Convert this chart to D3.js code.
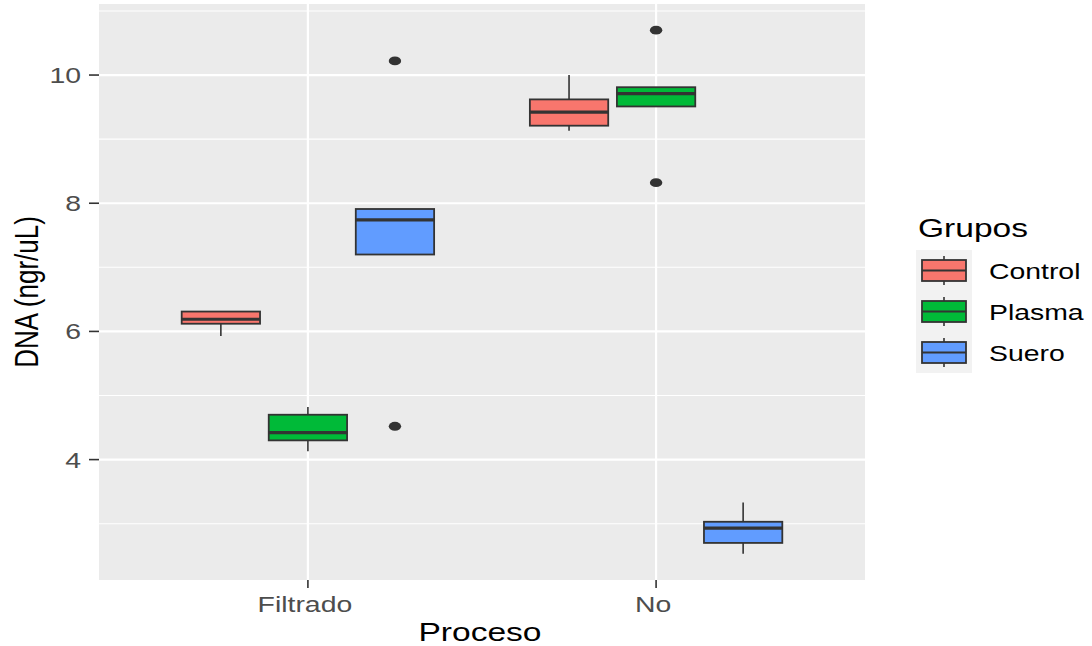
<!DOCTYPE html>
<html>
<head>
<meta charset="utf-8">
<script src="https://cdn.jsdelivr.net/npm/d3@7"></script>
<style>
  html, body { margin: 0; padding: 0; background: #fff; }
  svg { display: block; }
  text { font-family: "Liberation Sans", Arial, sans-serif; }
</style>
</head>
<body>
<svg id="chart" width="1092" height="646"></svg>
<script>
// Processing categories (x axis) and groups (fill)
const procesos = ["Filtrado", "No"];
const grupos = ["Control", "Plasma", "Suero"];
const colores = ["#F8766D", "#00BA38", "#619CFF"];

// Box statistics per group, one entry per proceso: [lower whisker, Q1, median, Q3, upper whisker]
const statsControl = [[5.93, 6.12, 6.19, 6.31, 6.31], [9.13, 9.21, 9.42, 9.62, 10.0]];
const statsPlasma  = [[4.13, 4.30, 4.42, 4.70, 4.82], [9.51, 9.51, 9.71, 9.81, 9.81]];
const statsSuero   = [[7.20, 7.20, 7.74, 7.91, 7.91], [2.53, 2.70, 2.93, 3.03, 3.33]];

// Outlying points per group, one list per proceso
const outControl = [[], []];
const outPlasma  = [[], [10.70, 8.32]];
const outSuero   = [[10.22, 4.52], []];

const yTicks = [4, 6, 8, 10];
const yMinor = [3, 5, 7, 9, 11];

const stats = [statsControl, statsPlasma, statsSuero];
const outs = [outControl, outPlasma, outSuero];

const boxes = [];
procesos.forEach((p, pi) => {
  grupos.forEach((g, gi) => {
    const s = stats[gi][pi];
    boxes.push({ proceso: p, pi, grupo: g, gi, lo: s[0], q1: s[1], med: s[2], q3: s[3], hi: s[4], out: outs[gi][pi] });
  });
});

const svg = d3.select("#chart");
const panel = { left: 99, right: 865, top: 4, bottom: 580 };
const SX = 1.29; // horizontal text stretch

// y range with 5% expansion around all values
const allVals = boxes.flatMap(b => [b.lo, b.hi, ...b.out]);
const yMin = d3.min(allVals), yMax = d3.max(allVals);
const pad = (yMax - yMin) * 0.05;
const y = d3.scaleLinear().domain([yMin - pad, yMax + pad]).range([panel.bottom, panel.top]);

// discrete x positions 1..n, expanded by 0.6 on each side
const x = d3.scaleLinear().domain([0.4, procesos.length + 0.6]).range([panel.left, panel.right]);
const dodge = 0.75;
const boxW = dodge / grupos.length * 0.9;
const boxX = b => x(b.pi + 1 + (b.gi - (grupos.length - 1) / 2) * dodge / grupos.length);
const unit = x(1) - x(0);

// panel background and grid
svg.append("rect").attr("x", panel.left).attr("y", panel.top)
  .attr("width", panel.right - panel.left).attr("height", panel.bottom - panel.top)
  .attr("fill", "#EBEBEB");
const grid = svg.append("g");
yMinor.forEach(v => grid.append("line").attr("x1", panel.left).attr("x2", panel.right)
  .attr("y1", y(v)).attr("y2", y(v)).attr("stroke", "#fff").attr("stroke-width", 1.1));
yTicks.forEach(v => grid.append("line").attr("x1", panel.left).attr("x2", panel.right)
  .attr("y1", y(v)).attr("y2", y(v)).attr("stroke", "#fff").attr("stroke-width", 2.2));
procesos.forEach((p, i) => grid.append("line").attr("x1", x(i + 1)).attr("x2", x(i + 1))
  .attr("y1", panel.top).attr("y2", panel.bottom).attr("stroke", "#fff").attr("stroke-width", 2.2));

// boxplots
const gb = svg.append("g");
boxes.forEach(b => {
  const cx = boxX(b), w = boxW * unit;
  const g = gb.append("g");
  g.append("line").attr("x1", cx).attr("x2", cx).attr("y1", y(b.hi)).attr("y2", y(b.q3))
    .attr("stroke", "#333").attr("stroke-width", 1.6);
  g.append("line").attr("x1", cx).attr("x2", cx).attr("y1", y(b.q1)).attr("y2", y(b.lo))
    .attr("stroke", "#333").attr("stroke-width", 1.6);
  g.append("rect").attr("x", cx - w / 2).attr("y", y(b.q3)).attr("width", w)
    .attr("height", y(b.q1) - y(b.q3)).attr("fill", colores[b.gi])
    .attr("stroke", "#333").attr("stroke-width", 1.8);
  g.append("line").attr("x1", cx - w / 2).attr("x2", cx + w / 2).attr("y1", y(b.med)).attr("y2", y(b.med))
    .attr("stroke", "#333").attr("stroke-width", 3.2);
  b.out.forEach(v => g.append("ellipse").attr("cx", cx).attr("cy", y(v))
    .attr("rx", 6.2).attr("ry", 4.4).attr("fill", "#333"));
});

// y axis ticks and labels
const ax = svg.append("g");
yTicks.forEach(v => {
  ax.append("line").attr("x1", panel.left - 10).attr("x2", panel.left).attr("y1", y(v)).attr("y2", y(v))
    .attr("stroke", "#333").attr("stroke-width", 1.6);
  ax.append("text").attr("transform", `translate(${panel.left - 18},${y(v) + 8}) scale(${SX},1)`)
    .attr("text-anchor", "end").attr("font-size", 22).attr("fill", "#4D4D4D").text(v);
});
// x axis ticks and labels
procesos.forEach((p, i) => {
  ax.append("line").attr("x1", x(i + 1)).attr("x2", x(i + 1)).attr("y1", panel.bottom).attr("y2", panel.bottom + 8)
    .attr("stroke", "#333").attr("stroke-width", 1.6);
  ax.append("text").attr("transform", `translate(${x(i + 1) - 3},${panel.bottom + 32}) scale(${SX},1)`)
    .attr("text-anchor", "middle").attr("font-size", 22).attr("fill", "#4D4D4D").text(p);
});

// axis titles
svg.append("text").attr("transform", `translate(${(panel.left + panel.right) / 2 - 2},${641}) scale(${SX},1)`)
  .attr("text-anchor", "middle").attr("font-size", 26).attr("fill", "#000").text("Proceso");
svg.append("text").attr("transform", `translate(38,${(panel.top + panel.bottom) / 2}) scale(${SX},1) rotate(-90)`)
  .attr("text-anchor", "middle").attr("font-size", 26).attr("fill", "#000").text("DNA (ngr/uL)");

// legend
const lg = svg.append("g").attr("transform", "translate(916,250)");
svg.append("text").attr("transform", `translate(918,237) scale(${SX},1)`)
  .attr("font-size", 26).attr("fill", "#000").text("Grupos");
const keyH = 41, keyW = 56;
lg.append("rect").attr("x", 0).attr("y", 0).attr("width", keyW).attr("height", keyH * grupos.length)
  .attr("fill", "#F2F2F2");
grupos.forEach((g, i) => {
  const k = lg.append("g").attr("transform", `translate(0,${i * keyH})`);
  const cx = keyW / 2, cy = keyH / 2;
  k.append("line").attr("x1", cx).attr("x2", cx).attr("y1", 6).attr("y2", keyH - 6)
    .attr("stroke", "#333").attr("stroke-width", 1.6);
  k.append("rect").attr("x", 6).attr("y", cy - 10.5).attr("width", keyW - 12).attr("height", 21)
    .attr("fill", colores[i]).attr("stroke", "#333").attr("stroke-width", 1.8);
  k.append("line").attr("x1", 6).attr("x2", keyW - 6).attr("y1", cy).attr("y2", cy)
    .attr("stroke", "#333").attr("stroke-width", 1.8);
  svg.append("text").attr("transform", `translate(989,${250 + i * keyH + cy + 8}) scale(${SX},1)`)
    .attr("font-size", 22).attr("fill", "#000").text(g);
});
</script>
</body>
</html>
